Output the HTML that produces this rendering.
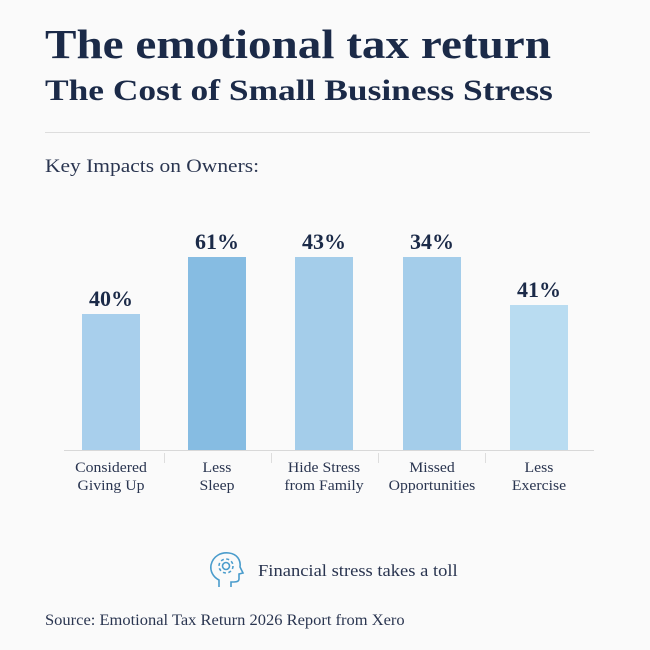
<!DOCTYPE html>
<html><head><meta charset="utf-8"><style>
body{margin:0;width:650px;height:650px;background:#fafafa;font-family:"Liberation Serif","DejaVu Serif",serif;color:#1b2a48;position:relative;overflow:hidden}
.a{position:absolute;white-space:nowrap;transform-origin:0 0}
.bar{position:absolute;width:58px;bottom:200px}
.v{position:absolute;width:100px;text-align:center;font-weight:bold;font-size:22px}
.c{position:absolute;width:110px;text-align:center;font-size:15px;line-height:18px;top:459px;color:#2a3550;transform:scaleX(1.05)}
</style></head><body>
<div class="a" style="left:45px;top:20px;font-size:41px;font-weight:bold;transform:scaleX(1.15)">The emotional tax return</div>
<div class="a" style="left:45px;top:74px;font-size:30px;font-weight:bold;transform:scaleX(1.18)">The Cost of Small Business Stress</div>
<div class="a" style="left:45px;top:132px;width:545px;height:1px;background:#ddd"></div>
<div class="a" style="left:45px;top:156px;font-size:19px;color:#2a3550;transform:scaleX(1.13)">Key Impacts on Owners:</div>

<div class="bar" style="left:82px;height:136px;background:#a8cfec"></div>
<div class="bar" style="left:188px;height:193px;background:#86bce2"></div>
<div class="bar" style="left:295px;height:193px;background:#a4cdea"></div>
<div class="bar" style="left:403px;height:193px;background:#a4cdea"></div>
<div class="bar" style="left:510px;height:145px;background:#b9dcf1"></div>

<div class="v" style="left:61px;top:286px">40%</div>
<div class="v" style="left:167px;top:229px">61%</div>
<div class="v" style="left:274px;top:229px">43%</div>
<div class="v" style="left:382px;top:229px">34%</div>
<div class="v" style="left:489px;top:277px">41%</div>

<div class="a" style="left:64px;top:450px;width:530px;height:1px;background:#d8d8d8"></div>
<div class="a" style="left:164px;top:453px;width:1px;height:10px;background:#ddd"></div>
<div class="a" style="left:271px;top:453px;width:1px;height:10px;background:#ddd"></div>
<div class="a" style="left:378px;top:453px;width:1px;height:10px;background:#ddd"></div>
<div class="a" style="left:485px;top:453px;width:1px;height:10px;background:#ddd"></div>

<div class="c" style="left:56px">Considered<br>Giving Up</div>
<div class="c" style="left:162px">Less<br>Sleep</div>
<div class="c" style="left:269px">Hide Stress<br>from Family</div>
<div class="c" style="left:377px">Missed<br>Opportunities</div>
<div class="c" style="left:484px">Less<br>Exercise</div>

<svg class="a" style="left:207px;top:550px" width="40" height="40" viewBox="0 0 40 40" fill="none" stroke="#4a9ccc" stroke-width="1.6">
<path d="M12 37 V30 C6 27 3 21 4 15 C6 6 14 2 22 3 C30 4 34 10 33 17 L36 23 L32 24 V29 C32 31 30 32 27 32 H24 V37"/>
<circle cx="19" cy="16" r="3.5"/>
<circle cx="19" cy="16" r="7" stroke-dasharray="3 2.5"/>
</svg>
<div class="a" style="left:258px;top:561px;font-size:17px;color:#2a3550;transform:scaleX(1.09)">Financial stress takes a toll</div>
<div class="a" style="left:45px;top:612px;font-size:16px;color:#2a3550;transform:scaleX(1.03)">Source: Emotional Tax Return 2026 Report from Xero</div>
</body></html>
